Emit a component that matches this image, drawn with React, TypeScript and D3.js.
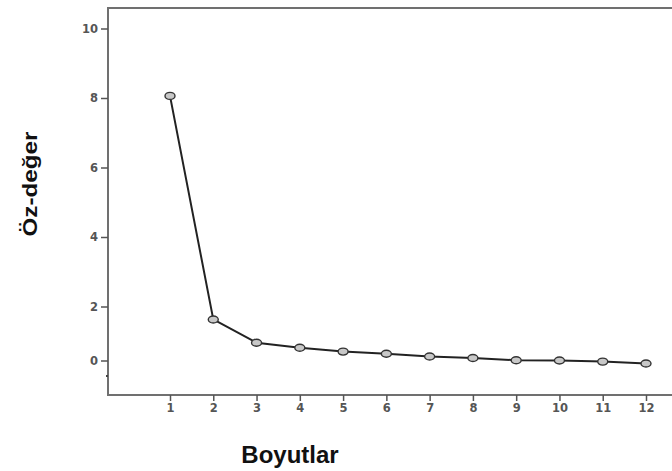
import React, { useEffect, useRef } from 'react';
import * as d3 from 'd3';

// scree plot values
const components = [1, 2, 3, 4, 5, 6, 7, 8, 9, 10, 11, 12];
const eigenvalues = [8.06, 1.52, 0.66, 0.47, 0.33, 0.25, 0.15, 0.09, 0.01, 0.0, -0.04, -0.11];
const yTicks = [0, 2, 4, 6, 8, 10];

const App = () => {
  const ref = useRef<SVGSVGElement>(null);

  useEffect(() => {
    const width = 672;
    const height = 471;
    const frame = { left: 108, top: 8, bottom: 395, right: 700 };

    const svg = d3.select(ref.current);
    svg.selectAll('*').remove();
    svg.attr('width', width).attr('height', height);

    const x = d3.scaleLinear().domain([1, 12]).range([170, 646]);
    // the original axis is squeezed between 0 and 2
    const y = d3.scaleLinear().domain([0, 2, 10]).range([360.5, 306.5, 28.5]);

    // frame (right side runs off the image)
    svg.append('rect')
      .attr('x', frame.left)
      .attr('y', frame.top)
      .attr('width', frame.right - frame.left)
      .attr('height', frame.bottom - frame.top)
      .attr('fill', 'white')
      .attr('stroke', '#707070')
      .attr('stroke-width', 2);

    const styleTicks = (g: d3.Selection<SVGGElement, unknown, null, undefined>) => {
      g.select('.domain').remove();
      g.selectAll('line').attr('stroke', '#555').attr('stroke-width', 1.5);
      g.selectAll('text')
        .attr('font-family', 'DejaVu Sans, sans-serif')
        .attr('font-size', 11.5)
        .attr('font-weight', 'bold')
        .attr('fill', '#555');
    };

    // y axis
    svg.append('g')
      .attr('transform', `translate(${frame.left},0)`)
      .call(d3.axisLeft(y).tickValues(yTicks).tickSize(7).tickPadding(3).tickFormat(d3.format('d')))
      .call(styleTicks);

    // little stray mark on the left axis
    svg.append('rect')
      .attr('x', frame.left - 2)
      .attr('y', 375)
      .attr('width', 2)
      .attr('height', 2)
      .attr('fill', '#444');

    // x axis
    svg.append('g')
      .attr('transform', `translate(0,${frame.bottom})`)
      .call(d3.axisBottom(x).tickValues(components).tickSize(6).tickPadding(3).tickFormat(d3.format('d')))
      .call(styleTicks);

    const pts = components.map((c, i) => [c, eigenvalues[i]] as [number, number]);

    svg.append('path')
      .datum(pts)
      .attr('fill', 'none')
      .attr('stroke', '#222')
      .attr('stroke-width', 2)
      .attr('d', d3.line<[number, number]>().x(d => x(d[0])).y(d => y(d[1])));

    svg.append('g')
      .selectAll('ellipse')
      .data(pts)
      .join('ellipse')
      .attr('cx', d => x(d[0]))
      .attr('cy', d => y(d[1]))
      .attr('rx', 5)
      .attr('ry', 3.5)
      .attr('fill', '#c8c8c8')
      .attr('stroke', '#333')
      .attr('stroke-width', 1.4);

    // titles
    svg.append('text')
      .attr('x', 290)
      .attr('y', 463)
      .attr('text-anchor', 'middle')
      .attr('font-family', 'Liberation Sans, Arial, sans-serif')
      .attr('font-size', 24)
      .attr('font-weight', 'bold')
      .attr('fill', '#111')
      .text('Boyutlar');

    svg.append('text')
      .attr('transform', 'translate(37,184) rotate(-90)')
      .attr('text-anchor', 'middle')
      .attr('font-family', 'Liberation Sans, Arial, sans-serif')
      .attr('font-size', 20)
      .attr('font-weight', 'bold')
      .attr('fill', '#111')
      .attr('textLength', 105)
      .attr('lengthAdjust', 'spacingAndGlyphs')
      .text('Öz-değer');
  }, []);

  return (
    <svg
      ref={ref}
      style={{ position: 'absolute', left: 0, top: 0, background: 'white' }}
    ></svg>
  );
};

export default App;
